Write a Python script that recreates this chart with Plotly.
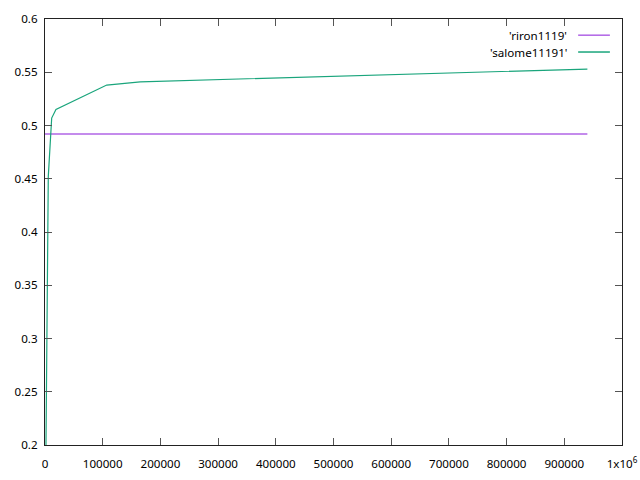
import plotly.graph_objects as go

# data
riron_name = "'riron1119'"
riron_x = [0, 940000]
riron_y = [0.492, 0.492]

salome_name = "'salome11191'"
salome_x = [1700, 5700, 11600, 19000, 107000, 165000, 940000]
salome_y = [0.2, 0.452, 0.507, 0.515, 0.538, 0.541, 0.553]

x_tickvals = [0, 100000, 200000, 300000, 400000, 500000, 600000, 700000, 800000, 900000, 1000000]
x_ticktext = ["0", "100000", "200000", "300000", "400000", "500000", "600000",
              "700000", "800000", "900000", "1x10<sup>6</sup>"]
y_tickvals = [0.2, 0.25, 0.3, 0.35, 0.4, 0.45, 0.5, 0.55, 0.6]
y_ticktext = ["0.2", "0.25", "0.3", "0.35", "0.4", "0.45", "0.5", "0.55", "0.6"]

colors = ["#b064e6", "#1aa57c"]

fig = go.Figure()
fig.add_trace(go.Scatter(x=riron_x, y=riron_y, mode="lines", name=riron_name,
                         line=dict(color=colors[0], width=1.5), showlegend=False))
fig.add_trace(go.Scatter(x=salome_x, y=salome_y, mode="lines", name=salome_name,
                         line=dict(color=colors[1], width=1.2), showlegend=False))

font = dict(family="Noto Sans", size=11.6, color="#000000")

# gnuplot-style legend: right-aligned text, sample line to the right
names = [riron_name, salome_name]
ys = [0.962, 0.9225]
for name, yy, c in zip(names, ys, colors):
    fig.add_annotation(x=0.908, y=yy, xref="paper", yref="paper", text=name,
                       showarrow=False, xanchor="right", yanchor="middle", font=font)
    fig.add_shape(type="line", xref="paper", yref="paper", x0=0.924, x1=0.979,
                  y0=yy, y1=yy, line=dict(color=c, width=1.5))

axis_common = dict(showgrid=False, zeroline=False, showline=True, linecolor="#222222",
                   linewidth=1.2, mirror="ticks", ticks="inside", ticklen=7,
                   tickcolor="#555555", tickwidth=1, tickfont=font, automargin=False)

fig.update_xaxes(range=[0, 1000000], tickvals=x_tickvals, ticktext=x_ticktext,
                 ticklabelstandoff=8, **axis_common)
fig.update_yaxes(range=[0.2, 0.6], tickvals=y_tickvals, ticktext=y_ticktext,
                 ticklabelstandoff=4, **axis_common)

fig.update_layout(width=640, height=480, margin=dict(l=45, r=18, t=19, b=35),
                  plot_bgcolor="white", paper_bgcolor="white", font=font)

fig.write_html("out.html", config={"displayModeBar": False},
               post_script="document.body.style.margin='0';document.body.style.overflow='hidden';")
